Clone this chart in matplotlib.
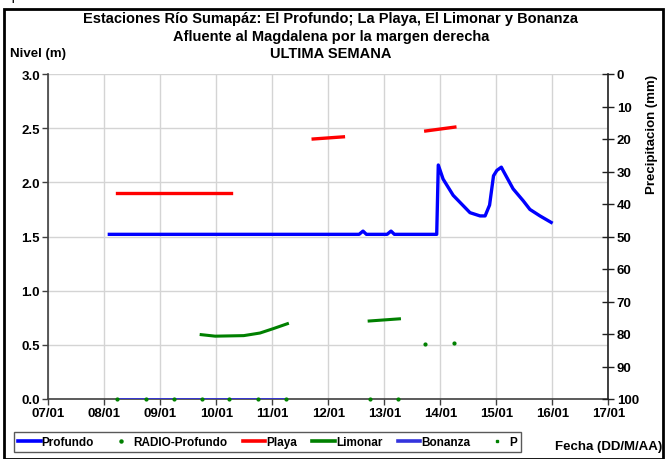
import matplotlib
matplotlib.use("Agg")
import matplotlib.pyplot as plt
from matplotlib.lines import Line2D
from matplotlib.patches import Rectangle

# ---- data (days of January) ----
x_ticks = [7, 8, 9, 10, 11, 12, 13, 14, 15, 16, 17]
x_labels = ["07/01", "08/01", "09/01", "10/01", "11/01", "12/01", "13/01", "14/01", "15/01", "16/01", "17/01"]

profundo_t = [8.09, 12.55, 12.62, 12.68, 13.05, 13.12, 13.18, 13.936, 13.964, 14.05, 14.23, 14.53,
              14.71, 14.80, 14.88, 14.95, 15.01, 15.09, 15.12, 15.30, 15.48, 15.60, 15.78, 15.98]
profundo_v = [1.52, 1.52, 1.55, 1.52, 1.52, 1.55, 1.52, 1.52, 2.16, 2.03, 1.88, 1.72,
              1.69, 1.69, 1.79, 2.06, 2.11, 2.14, 2.11, 1.94, 1.83, 1.75, 1.69, 1.63]

playa1_t = [8.23, 10.27]
playa1_v = [1.90, 1.90]
playa2_t = [11.73, 12.27]
playa2_v = [2.40, 2.42]
playa3_t = [13.74, 14.26]
playa3_v = [2.474, 2.51]

limonar1_t = [9.73, 9.98, 10.49, 10.78, 11.02, 11.27]
limonar1_v = [0.594, 0.58, 0.585, 0.609, 0.65, 0.695]
limonar2_t = [12.73, 13.27]
limonar2_v = [0.72, 0.74]

radio_t = [8.23, 8.74, 9.24, 9.74, 10.23, 10.74, 11.24, 12.74, 13.24, 13.73, 14.25]
radio_v = [0.0, 0.0, 0.0, 0.0, 0.0, 0.0, 0.0, 0.0, 0.0, 0.51, 0.52]

bonanza_t = [8.23, 11.24]
bonanza_v = [0.0, 0.0]

y_ticks = [0.0, 0.5, 1.0, 1.5, 2.0, 2.5, 3.0]
p_ticks = [0, 10, 20, 30, 40, 50, 60, 70, 80, 90, 100]

plt.rcParams['font.family'] = ['Liberation Sans', 'DejaVu Sans']
plt.rcParams['font.weight'] = 'bold'

W, H = 667, 460
fig = plt.figure(figsize=(W / 100, H / 100), dpi=100)

def fx(px):
    return px / W

def fy(py):
    return 1 - py / H

ax = fig.add_axes([fx(48.3), fy(400), fx(608.3) - fx(48.3), fy(75) - fy(400)])
ax.set_xlim(7, 17)
ax.set_ylim(0, 3.0)
ax.set_xticks(x_ticks)
ax.set_xticklabels(x_labels)
ax.set_yticks(y_ticks)
ax.set_yticklabels([f"{v:.1f}" for v in y_ticks])
ax.grid(True, color='#d4d4d4', linewidth=1.0)
ax.set_axisbelow(True)
for s in ['top', 'right']:
    ax.spines[s].set_visible(False)
for s in ['left', 'bottom']:
    ax.spines[s].set_color('#404040')
    ax.spines[s].set_linewidth(1.2)
ax.tick_params(axis='both', labelsize=9.5, length=4, width=1, color='#404040', pad=2)

ax.plot(bonanza_t, bonanza_v, color='#3333dd', lw=2.0, solid_capstyle='butt', zorder=3)
ax.plot(profundo_t, profundo_v, color='#0000ff', lw=2.4, zorder=4)
for t, v in [(playa1_t, playa1_v), (playa2_t, playa2_v), (playa3_t, playa3_v)]:
    ax.plot(t, v, color='#ff0000', lw=2.4, zorder=4)
for t, v in [(limonar1_t, limonar1_v), (limonar2_t, limonar2_v)]:
    ax.plot(t, v, color='#008000', lw=2.2, zorder=4)
ax.plot(radio_t, radio_v, 'o', color='#008000', ms=2.0, lw=0, zorder=5, clip_on=False)

ax2 = ax.twinx()
ax2.set_ylim(100, 0)
ax2.set_yticks(p_ticks)
for s in ['top', 'left', 'bottom']:
    ax2.spines[s].set_visible(False)
ax2.spines['right'].set_color('#202020')
ax2.spines['right'].set_linewidth(1.2)
ax2.tick_params(axis='y', labelsize=9.5, direction='inout', length=8, width=1, color='#202020', pad=2)

fig.text(0.496, fy(19), "Estaciones Río Sumapáz: El Profundo; La Playa, El Limonar y Bonanza",
         ha='center', va='center', fontsize=10.5, fontweight='bold')
fig.text(0.496, fy(36.5), "Afluente al Magdalena por la margen derecha",
         ha='center', va='center', fontsize=10.5, fontweight='bold')
fig.text(0.496, fy(54), "ULTIMA SEMANA", ha='center', va='center', fontsize=10.5, fontweight='bold')
fig.text(fx(10), fy(54), "Nivel (m)", ha='left', va='center', fontsize=9.5, fontweight='bold')
fig.text(fx(652), fy(75), "Precipitacion (mm)", ha='center', va='top', rotation=90,
         fontsize=9.5, fontweight='bold')
fig.text(fx(555), fy(447), "Fecha (DD/M/AA)", ha='left', va='center', fontsize=9.5, fontweight='bold')
fig.text(fx(4), fy(3), "época.", ha='left', va='bottom', fontsize=10, fontweight='normal')

# outer frame
fig.add_artist(Rectangle((fx(4), 0), fx(663) - fx(4), fy(10), transform=fig.transFigure,
                         fill=False, edgecolor='black', linewidth=2.0))

handles = [
    Line2D([], [], color='#0000ff', lw=2.6),
    Line2D([], [], color='#008000', marker='o', ms=2.2, lw=0),
    Line2D([], [], color='#ff0000', lw=2.6),
    Line2D([], [], color='#008000', lw=2.6),
    Line2D([], [], color='#3333dd', lw=2.6),
    Line2D([], [], color='#008000', marker='s', ms=1.8, lw=0),
]
labels = ["Profundo", "RADIO-Profundo", "Playa", "Limonar", "Bonanza", "P"]
leg = fig.legend(handles, labels, loc='center left', bbox_to_anchor=(fx(14), fy(443)),
                 ncol=6, fontsize=8.5, frameon=True, fancybox=False, edgecolor='#303030',
                 handlelength=1.9, handletextpad=0.1, columnspacing=1.3, borderpad=0.35,
                 borderaxespad=0)
leg.get_frame().set_linewidth(1.0)

fig.savefig("out.png", dpi=100)
